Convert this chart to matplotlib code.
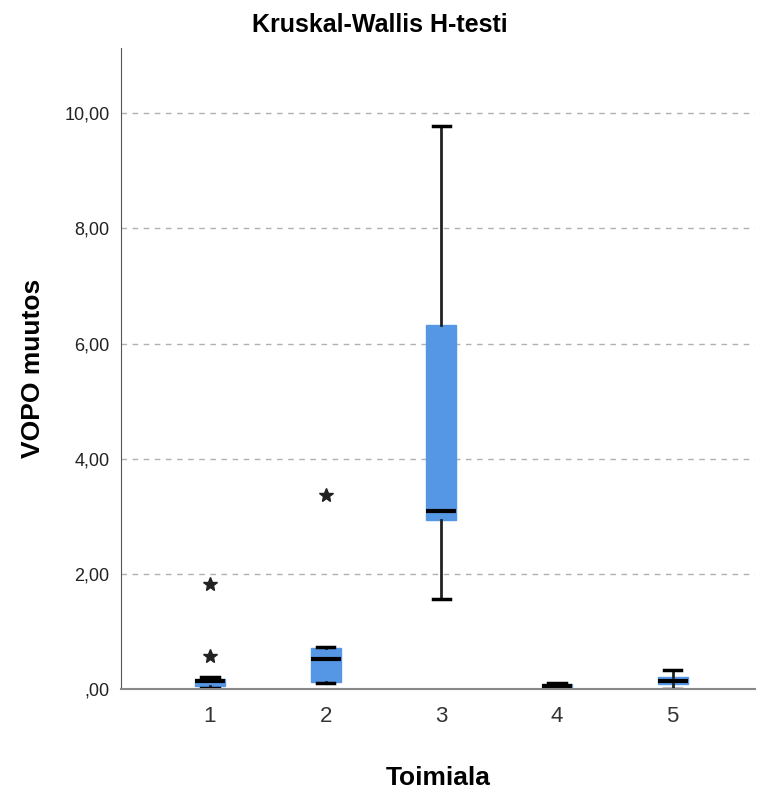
import numpy as np
import matplotlib.pyplot as plt

plt.rcParams['font.family'] = ['Liberation Sans', 'DejaVu Sans']

groups = [1, 2, 3, 4, 5]
whislo = [0.02, 0.10, 1.56, 0.02, 0.00]
q1 = [0.06, 0.12, 2.93, 0.04, 0.09]
med = [0.13, 0.52, 3.09, 0.06, 0.14]
q3 = [0.17, 0.71, 6.32, 0.08, 0.21]
whishi = [0.20, 0.73, 9.78, 0.10, 0.33]
fliers = [[0.57, 1.82], [3.37], [], [], []]
yticks = [0, 2, 4, 6, 8, 10]
ytick_labels = [',00', '2,00', '4,00', '6,00', '8,00', '10,00']

stats = []
for i in range(len(groups)):
    stats.append(dict(label=str(groups[i]), whislo=whislo[i], q1=q1[i], med=med[i],
                      q3=q3[i], whishi=whishi[i], fliers=fliers[i]))

fig = plt.figure(figsize=(7.6, 7.91), dpi=100)
ax = fig.add_axes([0.159, 0.129, 0.834, 0.81])

for y in yticks[1:]:
    ax.axhline(y, color='#b0b0b0', linestyle=(0, (4, 4)), linewidth=1, zorder=0)

ax.bxp(stats, positions=groups, widths=0.26, patch_artist=True, showfliers=True,
       boxprops=dict(facecolor='#5597e4', edgecolor='#5597e4', linewidth=1),
       medianprops=dict(color='black', linewidth=3),
       whiskerprops=dict(color='#222222', linewidth=2),
       capprops=dict(color='black', linewidth=2.5),
       capwidths=0.15,
       flierprops=dict(marker='*', markerfacecolor='#222222', markeredgecolor='#222222',
                       markersize=10, linestyle='none'))

ax.set_xlim(0.23, 5.71)
ax.set_ylim(0, 11.13)
ax.set_yticks(yticks)
ax.set_yticklabels(ytick_labels, fontsize=13, color='#222222')
ax.set_xticks(groups)
ax.set_xticklabels([str(g) for g in groups], fontsize=16, color='#333333')
ax.tick_params(axis='both', length=0)
ax.tick_params(axis='x', pad=12)
ax.tick_params(axis='y', pad=8)

for s in ['top', 'right']:
    ax.spines[s].set_visible(False)
ax.spines['left'].set_color('#555555')
ax.spines['bottom'].set_color('#888888')
ax.spines['bottom'].set_linewidth(1.5)

fig.text(0.5, 0.968, 'Kruskal-Wallis H-testi', fontsize=18, fontweight='bold',
         ha='center', va='center')
ax.set_ylabel('VOPO muutos', fontsize=19, fontweight='bold', labelpad=14)
ax.set_xlabel('Toimiala', fontsize=19, fontweight='bold', labelpad=28)

fig.savefig('out.png', dpi=100)
